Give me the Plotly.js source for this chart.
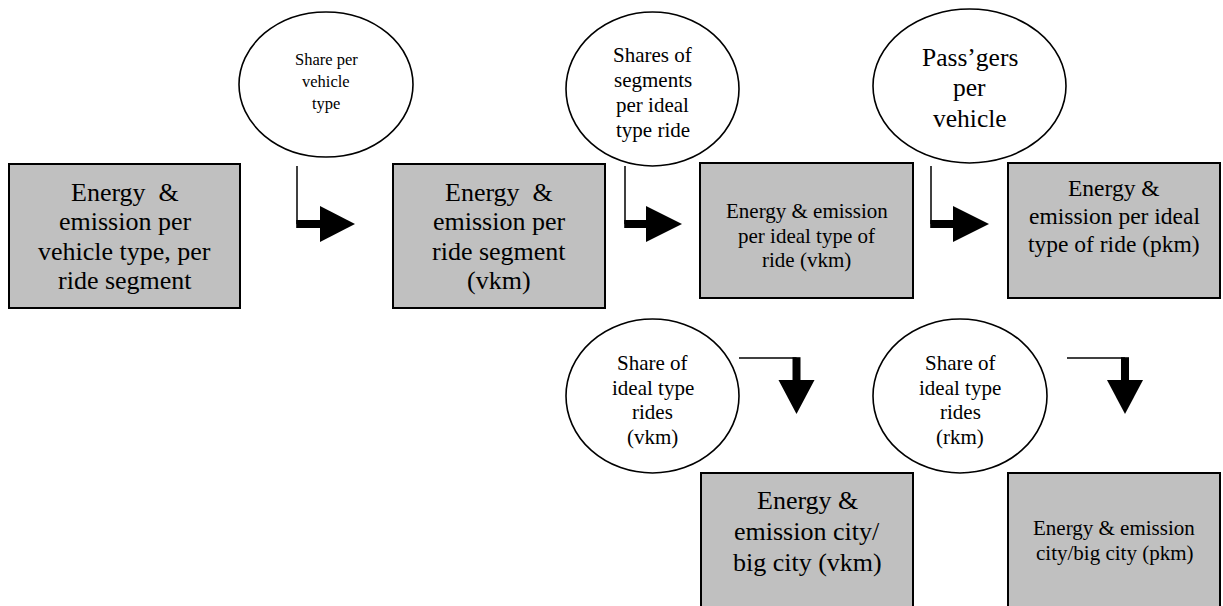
<!DOCTYPE html>
<html>
<head>
<meta charset="utf-8">
<script src="https://cdn.plot.ly/plotly-3.0.1.min.js"></script>
<style>html,body{margin:0;padding:0;background:#fff;}#chart{width:1223px;height:606px;}</style>
</head>
<body>
<div id="chart"></div>
<script>
// ---- content (text of every node) ----
const boxLabels = [
  ["Energy\u00a0 &", "emission per", "vehicle type, per", "ride segment"],
  ["Energy\u00a0 &", "emission per", "ride segment", "(vkm)"],
  ["Energy & emission", "per ideal type of", "ride (vkm)"],
  ["Energy &", "emission per ideal", "type of ride (pkm)"],
  ["Energy &", "emission city/", "big city (vkm)"],
  ["Energy & emission", "city/big city (pkm)"]
];
const factorLabels = [
  ["Share per", "vehicle", "type"],
  ["Shares of", "segments", "per ideal", "type ride"],
  ["Pass\u2019gers", "per", "vehicle"],
  ["Share of", "ideal type", "rides", "(vkm)"],
  ["Share of", "ideal type", "rides", "(rkm)"]
];

// ---- geometry / style (layout only) ----
const boxGeom = [
  {x0: 9,    x1: 240,  y0: 164, y1: 308, ty: 192, gap: 29.5, fs: 26},
  {x0: 393,  x1: 605,  y0: 164, y1: 308, ty: 192, gap: 29.5, fs: 26},
  {x0: 700,  x1: 913,  y0: 163, y1: 298, ty: 211, gap: 24.5, fs: 21},
  {x0: 1008, x1: 1220, y0: 163, y1: 298, ty: 188, gap: 28,   fs: 23.5},
  {x0: 701,  x1: 913,  y0: 473, y1: 612, ty: 500, gap: 31,   fs: 26},
  {x0: 1008, x1: 1220, y0: 473, y1: 612, ty: 528, gap: 25,   fs: 21}
];
const ellGeom = [
  {x0: 239, x1: 413,  y0: 12,  y1: 157, ty: 59,  gap: 22,   fs: 16.5},
  {x0: 566, x1: 739,  y0: 12,  y1: 166, ty: 55,  gap: 25,   fs: 21},
  {x0: 873, x1: 1066, y0: 9,   y1: 163, ty: 57,  gap: 30.5, fs: 25.5},
  {x0: 566, x1: 739,  y0: 319, y1: 473, ty: 363, gap: 24.7, fs: 21},
  {x0: 873, x1: 1047, y0: 319, y1: 473, ty: 363, gap: 24.7, fs: 21}
];
// elbow arrows going right: vertical stem x, stem top, bar y, head start, head tip
const rightArrows = [
  {x: 297, top: 166, y: 224, hx: 320, tip: 355},
  {x: 625, top: 166, y: 224, hx: 646, tip: 682},
  {x: 931, top: 166, y: 224, hx: 953, tip: 989}
];
// elbow arrows going down: horizontal stem start, x of drop, stem y, head start, tip
const downArrows = [
  {x0: 739,  x: 796.5, y: 358, hy: 380, tip: 414},
  {x0: 1067, x: 1125,  y: 358, hy: 380, tip: 414}
];

const FONT = "Liberation Serif, Times New Roman, serif";
const shapes = [];
const annotations = [];

function addLines(lines, cx, g) {
  lines.forEach((t, i) => {
    annotations.push({
      x: cx, y: g.ty + i * g.gap, xref: "x", yref: "y",
      text: t, showarrow: false, xanchor: "center", yanchor: "middle",
      font: {family: FONT, size: g.fs, color: "#000"}
    });
  });
}

boxGeom.forEach((g, i) => {
  shapes.push({type: "rect", xref: "x", yref: "y", x0: g.x0, x1: g.x1, y0: g.y0, y1: g.y1,
    fillcolor: "#c0c0c0", line: {color: "#000", width: 2}, layer: "below"});
  addLines(boxLabels[i], (g.x0 + g.x1) / 2, g);
});
ellGeom.forEach((g, i) => {
  shapes.push({type: "circle", xref: "x", yref: "y", x0: g.x0, x1: g.x1, y0: g.y0, y1: g.y1,
    fillcolor: "#fff", line: {color: "#000", width: 1.6}, layer: "below"});
  addLines(factorLabels[i], (g.x0 + g.x1) / 2, g);
});
rightArrows.forEach(a => {
  shapes.push({type: "line", xref: "x", yref: "y", x0: a.x, x1: a.x, y0: a.top, y1: a.y,
    line: {color: "#000", width: 1.5}});
  shapes.push({type: "rect", xref: "x", yref: "y", x0: a.x - 0.8, x1: a.hx + 1, y0: a.y - 4, y1: a.y + 4,
    fillcolor: "#000", line: {width: 0}});
  shapes.push({type: "path", xref: "x", yref: "y",
    path: `M ${a.hx} ${a.y - 18} L ${a.tip} ${a.y} L ${a.hx} ${a.y + 18} Z`,
    fillcolor: "#000", line: {width: 0}});
});
downArrows.forEach(a => {
  shapes.push({type: "line", xref: "x", yref: "y", x0: a.x0, x1: a.x, y0: a.y, y1: a.y,
    line: {color: "#000", width: 1.5}});
  shapes.push({type: "rect", xref: "x", yref: "y", x0: a.x - 4, x1: a.x + 4, y0: a.y - 0.8, y1: a.hy + 1,
    fillcolor: "#000", line: {width: 0}});
  shapes.push({type: "path", xref: "x", yref: "y",
    path: `M ${a.x - 18} ${a.hy} L ${a.x + 18} ${a.hy} L ${a.x} ${a.tip} Z`,
    fillcolor: "#000", line: {width: 0}});
});

const layout = {
  width: 1223, height: 606,
  margin: {l: 0, r: 0, t: 0, b: 0, pad: 0},
  paper_bgcolor: "#fff", plot_bgcolor: "#fff",
  showlegend: false,
  xaxis: {range: [0, 1223], visible: false, fixedrange: true},
  yaxis: {range: [606, 0], visible: false, fixedrange: true},
  shapes: shapes,
  annotations: annotations
};
Plotly.newPlot("chart", [], layout, {staticPlot: true, displayModeBar: false});
</script>
</body>
</html>
